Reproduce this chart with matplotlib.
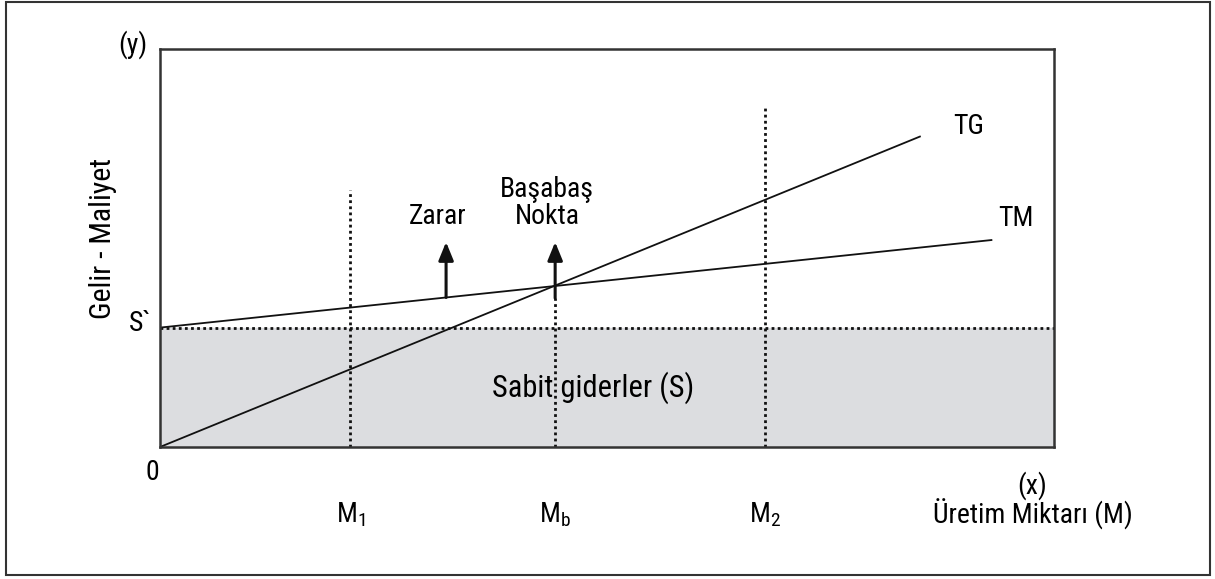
import matplotlib.pyplot as plt
from matplotlib.patches import Rectangle

plt.rcParams['font.family'] = ['Roboto Condensed', 'Liberation Sans Narrow', 'DejaVu Sans']
plt.rcParams['font.stretch'] = 'condensed'

# data (chart units: 0..100 on both axes)
x_max = 100
y_max = 100
fixed_cost = 30          # S
tg_x = [0, 85]           # total revenue (TG)
tg_y = [0, 78]
tm_x = [0, 93]           # total cost (TM)
tm_y = [30, 52]
m1 = 21.3
mb = 44.2
m2 = 67.7
m1_top = 64.6
m2_top = 85.7
zarar_x = 32.0
arrow_top = 51.5
mb_dot_top = 37.4

fig = plt.figure(figsize=(12.15, 5.79), dpi=100)
fig.patches.append(Rectangle((6 / 1215, 4 / 579), 1204 / 1215, 573 / 579,
                             transform=fig.transFigure, fill=False,
                             edgecolor='#333333', lw=1.5))

ax = fig.add_axes([160 / 1215, 132 / 579, 894 / 1215, 398 / 579])
ax.set_xlim(0, x_max)
ax.set_ylim(0, y_max)
ax.set_xticks([])
ax.set_yticks([])
for s in ax.spines.values():
    s.set_linewidth(1.8)
    s.set_color('#333333')

# fixed cost band
ax.fill_between([0, x_max], 0, fixed_cost, color='#dcdde0', zorder=0)
ax.plot([0, x_max], [fixed_cost, fixed_cost], color='#111111', lw=2,
        linestyle=(0, (1, 1.2)))

# dotted verticals
dot = dict(color='#111111', lw=2, linestyle=(0, (1, 1.2)))
ax.plot([m1, m1], [0, m1_top], **dot)
ax.plot([m2, m2], [0, m2_top], **dot)
ax.plot([mb, mb], [0, mb_dot_top], **dot)

# revenue / cost lines
ax.plot(tg_x, tg_y, color='#111111', lw=1.3)
ax.plot(tm_x, tm_y, color='#111111', lw=1.3)

# arrows
zarar_base = tm_y[0] + (tm_y[1] - tm_y[0]) / tm_x[1] * zarar_x
for xa, yb in [(zarar_x, zarar_base), (mb, mb_dot_top)]:
    ax.annotate('', xy=(xa, arrow_top), xytext=(xa, yb),
                arrowprops=dict(arrowstyle='-|>,head_length=1.1,head_width=0.45',
                                color='#111111', lw=2.2, shrinkA=0, shrinkB=0))

fs = 20
ax.text(zarar_x - 1, 54.5, 'Zarar', fontsize=fs, ha='center', va='bottom')
ax.text(mb - 0.9, 54.5, 'Başabaş\nNokta', fontsize=fs, ha='center', va='bottom',
        linespacing=1.0)
ax.text(90.4, 80.5, 'TG', fontsize=fs, ha='center', va='center')
ax.text(95.7, 57.5, 'TM', fontsize=fs, ha='center', va='center')
ax.text(48.4, 15.0, 'Sabit giderler (S)', fontsize=22, ha='center', va='center')

# outer labels
ax.text(-3.0, 101, '(y)', fontsize=fs, ha='center', va='center', clip_on=False)
ax.text(-6.4, 52.5, 'Gelir - Maliyet', fontsize=21.5, ha='center', va='center',
        rotation=90, clip_on=False)
ax.text(-2.2, 31, 'S`', fontsize=fs, ha='center', va='center', clip_on=False)
ax.text(-0.9, -6.5, '0', fontsize=fs, ha='center', va='center', clip_on=False)
for xm, lab in [(m1, r'$\mathregular{M_1}$'), (mb, r'$\mathregular{M_b}$'),
                (m2, r'$\mathregular{M_2}$')]:
    ax.text(xm, -17, lab, fontsize=fs, ha='center', va='center', clip_on=False)
ax.text(97.6, -9.8, '(x)', fontsize=fs, ha='center', va='center', clip_on=False)
ax.text(97.6, -16.8, 'Üretim Miktarı (M)', fontsize=fs, ha='center', va='center',
        clip_on=False)

fig.savefig('out.png', dpi=100)
